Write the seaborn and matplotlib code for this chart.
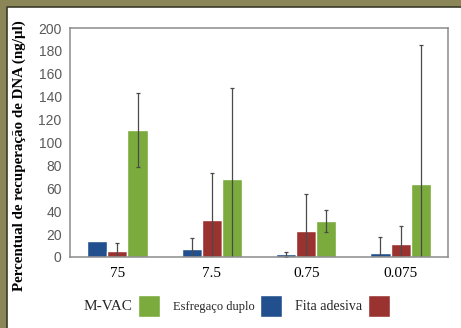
import numpy as np
import pandas as pd
import matplotlib
matplotlib.use('Agg')
import matplotlib.pyplot as plt
from matplotlib.patches import Rectangle
from matplotlib.lines import Line2D
import seaborn as sns

# Values
categories = ['75', '7.5', '0.75', '0.075']
blue_vals = [14.2, 6.7, 2.3, 3.2]
blue_err = [0.0, 10.3, 2.1, 14.0]
red_vals = [5.2, 32.3, 23.0, 11.4]
red_err = [7.0, 41.0, 32.0, 16.0]
green_vals = [111.0, 68.0, 31.7, 64.0]
green_err = [32.0, 80.0, 9.7, 121.0]

series = ['Esfregaço duplo', 'Fita adesiva', 'M-VAC']
colors = ['#22508F', '#9A3230', '#7AAB3C']
legend_order = ['M-VAC', 'Esfregaço duplo', 'Fita adesiva']
legend_sizes = [11, 9, 10]

df = pd.DataFrame({
    'conc': categories * 3,
    'metodo': np.repeat(series, len(categories)),
    'valor': blue_vals + red_vals + green_vals,
    'erro': blue_err + red_err + green_err,
})

sns.set_theme(style='white')
plt.rcParams['font.family'] = ['Liberation Serif', 'DejaVu Serif']

fig = plt.figure(figsize=(4.61, 3.28), dpi=100, facecolor='#8B8657')
# white panel with a dark edge only on left and top
x0, y1 = 7 / 461, 1 - 7 / 328
fig.add_artist(Rectangle((x0, 0), 1, y1, transform=fig.transFigure,
                         facecolor='white', edgecolor='none', zorder=0))
fig.add_artist(Line2D([x0, x0, 1], [0, y1, y1], transform=fig.transFigure,
                      color='#3a3a2a', lw=1.2, zorder=0.5))

ax = fig.add_axes([70 / 461, 71 / 328, 378 / 461, 229 / 328])
sns.barplot(data=df, x='conc', y='valor', hue='metodo', hue_order=series,
            order=categories, palette=colors, width=0.64, saturation=1,
            errorbar=None, ax=ax)

# error bars centred on each bar
for bars, name in zip(ax.containers, series):
    sub = df[df['metodo'] == name].set_index('conc').loc[categories]
    xs = [b.get_x() + b.get_width() / 2 for b in bars]
    err = sub['erro'].to_numpy()
    mask = err > 0
    ax.errorbar(np.array(xs)[mask], sub['valor'].to_numpy()[mask], yerr=err[mask],
                fmt='none', ecolor='#4a4a4a', elinewidth=0.9, capsize=1.2,
                capthick=0.9)

ax.set_ylim(0, 200)
ax.set_yticks(range(0, 201, 20))
ax.set_xlabel('')
ax.set_ylabel('')
ax.tick_params(axis='y', length=0, pad=6, labelsize=10, labelcolor='#5a5a5a')
ax.tick_params(axis='x', length=0, pad=7, labelsize=11, labelcolor='black')
for lab in ax.get_yticklabels():
    lab.set_family('Liberation Sans')
for sp in ax.spines.values():
    sp.set_color('#8c8c8c')
    sp.set_linewidth(1.1)

fig.text(19 / 461, 0.526, 'Percentual de recuperação de DNA (ng/µl)', rotation=90,
         ha='center', va='center', fontsize=10.8, fontweight='bold', color='black')

# legend: labels before patches
handles, labels = ax.get_legend_handles_labels()
hmap = dict(zip(labels, handles))
ax.get_legend().remove()
leg = fig.legend([hmap[n] for n in legend_order], legend_order, ncol=3,
                 loc='center left', bbox_to_anchor=(74 / 461, 22 / 328),
                 frameon=False, markerfirst=False, fontsize=10,
                 handlelength=1.6, handleheight=1.95, handletextpad=0.4,
                 columnspacing=0.9, borderpad=0.2)
for t, s in zip(leg.get_texts(), legend_sizes):
    t.set_fontsize(s)

fig.savefig('out.png', dpi=100, facecolor=fig.get_facecolor())
